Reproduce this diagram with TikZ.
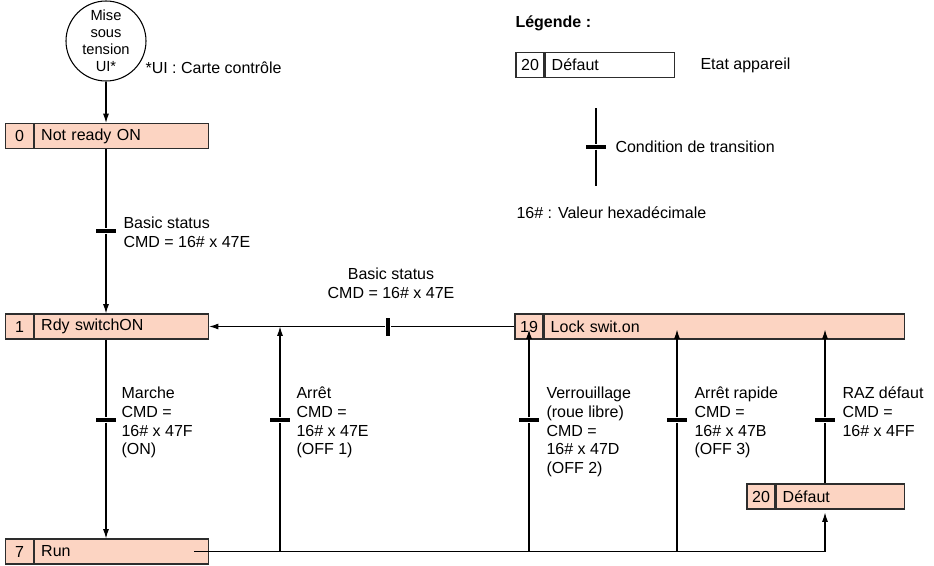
\documentclass[tikz,border=0pt]{standalone}
\usepackage{fontspec}
\setmainfont{Liberation Sans}
\usetikzlibrary{arrows.meta, positioning, calc}
\definecolor{etat}{RGB}{252,212,194}
\definecolor{trait}{RGB}{45,45,45}

\tikzset{
  num/.style={draw=trait, fill=etat, minimum width=21pt, minimum height=18.75pt, inner sep=0pt},
  nom/.style={draw=trait, fill=etat, minimum height=18.75pt, inner xsep=5pt, inner ysep=0pt, align=left},
  barre/.style={fill=black, inner sep=0pt, minimum width=15pt, minimum height=3pt},
  barrev/.style={fill=black, inner sep=0pt, minimum width=3.5pt, minimum height=13.5pt},
  fleche/.style={-{Latex[length=7pt,width=4.5pt]}},
  lbl/.style={align=left, anchor=north west, inner sep=0pt}
}

\begin{document}
\begin{tikzpicture}[x=0.75pt, y=-0.75pt, font=\fontsize{12}{14.2}\selectfont, line width=0.8pt]
  \useasboundingbox (0,0) rectangle (934,565);
  % mise sous tension
  \node[draw, circle, minimum size=60pt, inner sep=0pt, align=center,
        font=\fontsize{11}{12.75}\selectfont] (ui) at (106,41) {Mise\\sous\\tension\\UI*};
  \node[anchor=west, inner sep=0pt] (uinote) at (145,68) {*UI : Carte contrôle};

  % etats
  \node[num] (e0) at (19.5,136) {0};
  \node[nom, text width=120.5pt, right=0pt of e0] (n0) {Not ready ON};
  \node[num] (e1) at (19.5,326.5) {1};
  \node[nom, text width=120.5pt, right=0pt of e1] (n1) {Rdy switchON};
  \node[num] (e7) at (19.5,551.5) {7};
  \node[nom, text width=120.5pt, right=0pt of e7] (n7) {Run};
  \node[num] (e19) at (529,326.5) {19};
  \node[nom, text width=260pt, right=0pt of e19] (n19) {Lock swit.on};
  \node[num] (e20) at (761,496.5) {20};
  \node[nom, text width=86pt, right=0pt of e20] (n20) {Défaut};

  % transitions
  \node[barre] (t1) at (106,231) {};
  \node[barre] (t2) at (106,420) {};
  \node[barre] (t3) at (280,420) {};
  \node[barre] (t4) at (529,420) {};
  \node[barre] (t5) at (677,420) {};
  \node[barre] (t6) at (825,420) {};
  \node[barrev] (tb) at (388,326.5) {};

  \node[lbl] (l1) at (123,216) {Basic status\\CMD = 16\# x 47E};
  \node[align=center, anchor=south, inner sep=0pt] (lb) at (391,299) {Basic status\\CMD = 16\# x 47E};
  \node[lbl] (l2) at (121,386) {Marche\\CMD =\\16\# x 47F\\(ON)};
  \node[lbl] (l3) at (296,386) {Arrêt\\CMD =\\16\# x 47E\\(OFF 1)};
  \node[lbl] (l4) at (546,386) {Verrouillage\\(roue libre)\\CMD =\\16\# x 47D\\(OFF 2)};
  \node[lbl] (l5) at (694,386) {Arrêt rapide\\CMD =\\16\# x 47B\\(OFF 3)};
  \node[lbl] (l6) at (842,386) {RAZ défaut\\CMD =\\16\# x 4FF};

  % liaisons
  \coordinate (r0) at ([xshift=-11pt]n7.east);
  \draw[fleche] (ui) -- (ui |- n0.north);
  \draw[fleche] (t1 |- n0.south) -- (t1) -- (t1 |- n1.north);
  \draw[fleche] (t2 |- n1.south) -- (t2) -- (t2 |- n7.north);
  \draw[fleche] (e19.west) -- (tb) -- (n1.east);
  \draw[fleche] (r0) -- (r0 -| t6) -- ($(t6 |- n20.south)+(0,3)$);
  \draw[fleche] (t3 |- r0) -- (t3) -- (t3 |- n1.east);
  \draw[fleche] (t4 |- r0) -- (t4) -- ($(t4 |- n19.south)+(0,-10)$);
  \draw[fleche] (t5 |- r0) -- (t5) -- ($(t5 |- n19.south)+(0,-10)$);
  \draw[fleche] (t6 |- n20.north) -- (t6) -- ($(t6 |- n19.south)+(0,-10)$);

  % legende
  \node[anchor=base west, inner sep=0pt, font=\fontsize{12}{14.2}\selectfont\bfseries] (leg) at (515,27) {Légende :};
  \node[num, fill=white] (el) at (530,65) {20};
  \node[nom, fill=white, text width=86.75pt, right=0pt of el] (nl) {Défaut};
  \node[anchor=west, inner sep=0pt] (ll) at (700,65) {Etat appareil};
  \coordinate (la) at (596,108);
  \coordinate (lz) at (596,186);
  \node[barre] (tl) at (596,147) {};
  \draw (la) -- (tl) -- (lz);
  \node[anchor=west, inner sep=0pt] (lt) at (615,147) {Condition de transition};
  \node[anchor=west, inner sep=0pt] (lh) at (516,213) {16\# : Valeur hexadécimale};
\end{tikzpicture}
\end{document}
